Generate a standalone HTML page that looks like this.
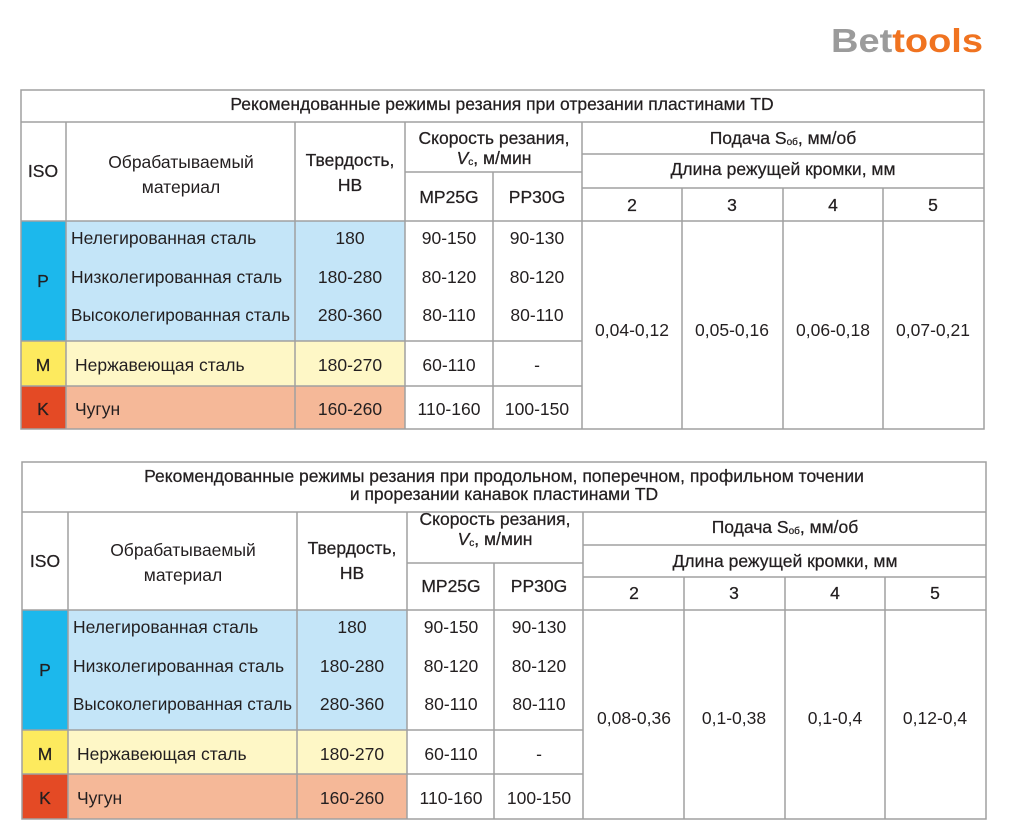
<!DOCTYPE html>
<html><head><meta charset="utf-8"><style>
body{margin:0;background:#fff}
svg{display:block}
text{font-family:"Liberation Sans",sans-serif;font-size:17.5px;fill:#231f20}
.h{font-weight:500;stroke:#231f20;stroke-width:0.25}
</style></head><body>
<svg width="1024" height="838" viewBox="0 0 1024 838">
<text x="831" y="52" textLength="152" lengthAdjust="spacingAndGlyphs" style="font-size:33px;font-weight:bold;fill:#9b9b9b">Bet<tspan style="fill:#f07320">tools</tspan></text>

<!-- TABLE 1 -->
<g>
<rect x="21" y="221" width="45" height="120" fill="#1cb8ec"/>
<rect x="66" y="221" width="339" height="120" fill="#c4e5f8"/>
<rect x="21" y="341" width="45" height="45" fill="#fdea5e"/>
<rect x="66" y="341" width="339" height="45" fill="#fef7c6"/>
<rect x="21" y="386" width="45" height="43" fill="#e44a25"/>
<rect x="66" y="386" width="339" height="43" fill="#f5b898"/>
<g stroke="#a0a0a0" stroke-width="1.5" fill="none">
<rect x="21" y="90" width="963" height="339"/>
<line x1="21" y1="122" x2="984" y2="122"/>
<line x1="21" y1="221" x2="984" y2="221"/>
<line x1="21" y1="341" x2="582" y2="341"/>
<line x1="21" y1="386" x2="582" y2="386"/>
<line x1="405" y1="172" x2="582" y2="172"/>
<line x1="582" y1="154" x2="984" y2="154"/>
<line x1="582" y1="188" x2="984" y2="188"/>
<line x1="66" y1="122" x2="66" y2="429"/>
<line x1="295" y1="122" x2="295" y2="429"/>
<line x1="405" y1="122" x2="405" y2="429"/>
<line x1="493" y1="172" x2="493" y2="429"/>
<line x1="582" y1="122" x2="582" y2="429"/>
<line x1="682" y1="188" x2="682" y2="429"/>
<line x1="783" y1="188" x2="783" y2="429"/>
<line x1="883" y1="188" x2="883" y2="429"/>
</g>
<g text-anchor="middle" dominant-baseline="central">
<text class="h" x="502" y="104">Рекомендованные режимы резания при отрезании пластинами TD</text>
<text class="h" x="43" y="171">ISO</text>
<text x="181" y="162">Обрабатываемый</text>
<text x="181" y="187">материал</text>
<text class="h" x="350" y="160">Твердость,</text>
<text class="h" x="350" y="185">HB</text>
<text class="h" x="494" y="138">Скорость резания,</text>
<text class="h" x="494" y="158"><tspan font-style="italic">V</tspan><tspan font-size="10" dy="4">c</tspan><tspan dy="-4">, м/мин</tspan></text>
<text class="h" x="449" y="197">MP25G</text>
<text class="h" x="537" y="197">PP30G</text>
<text class="h" x="783" y="138">Подача S<tspan font-size="10" dy="4">об</tspan><tspan dy="-4">, мм/об</tspan></text>
<text class="h" x="783" y="169">Длина режущей кромки, мм</text>
<text class="h" x="632" y="205">2</text><text class="h" x="732" y="205">3</text><text class="h" x="833" y="205">4</text><text class="h" x="933" y="205">5</text>
<text class="h" x="43" y="281">P</text><text class="h" x="43" y="365">M</text><text class="h" x="43" y="409">K</text>
<text x="350" y="238">180</text><text x="350" y="277">180-280</text><text x="350" y="315">280-360</text>
<text x="350" y="365">180-270</text><text x="350" y="409">160-260</text>
<text x="449" y="238">90-150</text><text x="449" y="277">80-120</text><text x="449" y="315">80-110</text>
<text x="449" y="365">60-110</text><text x="449" y="409">110-160</text>
<text x="537" y="238">90-130</text><text x="537" y="277">80-120</text><text x="537" y="315">80-110</text>
<text x="537" y="365">-</text><text x="537" y="409">100-150</text>
<text x="632" y="330">0,04-0,12</text><text x="732" y="330">0,05-0,16</text>
<text x="833" y="330">0,06-0,18</text><text x="933" y="330">0,07-0,21</text>
</g>
<g dominant-baseline="central">
<text x="71" y="238">Нелегированная сталь</text>
<text x="71" y="277">Низколегированная сталь</text>
<text x="71" y="315" textLength="219" lengthAdjust="spacingAndGlyphs">Высоколегированная сталь</text>
<text x="75" y="365">Нержавеющая сталь</text>
<text x="75" y="409">Чугун</text>
</g>
</g>

<!-- TABLE 2 -->
<g>
<rect x="22" y="610" width="46" height="120" fill="#1cb8ec"/>
<rect x="68" y="610" width="339" height="120" fill="#c4e5f8"/>
<rect x="22" y="730" width="46" height="44" fill="#fdea5e"/>
<rect x="68" y="730" width="339" height="44" fill="#fef7c6"/>
<rect x="22" y="774" width="46" height="45" fill="#e44a25"/>
<rect x="68" y="774" width="339" height="45" fill="#f5b898"/>
<g stroke="#a0a0a0" stroke-width="1.5" fill="none">
<rect x="22" y="462" width="964" height="357"/>
<line x1="22" y1="512" x2="986" y2="512"/>
<line x1="22" y1="610" x2="986" y2="610"/>
<line x1="22" y1="730" x2="583" y2="730"/>
<line x1="22" y1="774" x2="583" y2="774"/>
<line x1="407" y1="563" x2="583" y2="563"/>
<line x1="583" y1="545" x2="986" y2="545"/>
<line x1="583" y1="577" x2="986" y2="577"/>
<line x1="68" y1="512" x2="68" y2="819"/>
<line x1="297" y1="512" x2="297" y2="819"/>
<line x1="407" y1="512" x2="407" y2="819"/>
<line x1="494" y1="563" x2="494" y2="819"/>
<line x1="583" y1="512" x2="583" y2="819"/>
<line x1="684" y1="577" x2="684" y2="819"/>
<line x1="785" y1="577" x2="785" y2="819"/>
<line x1="885" y1="577" x2="885" y2="819"/>
</g>
<g text-anchor="middle" dominant-baseline="central">
<text class="h" x="504" y="476">Рекомендованные режимы резания при продольном, поперечном, профильном точении</text>
<text class="h" x="504" y="494">и прорезании  канавок пластинами TD</text>
<text class="h" x="45" y="561">ISO</text>
<text x="183" y="550">Обрабатываемый</text>
<text x="183" y="575">материал</text>
<text class="h" x="352" y="548">Твердость,</text>
<text class="h" x="352" y="573">HB</text>
<text class="h" x="495" y="519">Скорость резания,</text>
<text class="h" x="495" y="539"><tspan font-style="italic">V</tspan><tspan font-size="10" dy="4">c</tspan><tspan dy="-4">, м/мин</tspan></text>
<text class="h" x="451" y="586">MP25G</text>
<text class="h" x="539" y="586">PP30G</text>
<text class="h" x="785" y="527">Подача S<tspan font-size="10" dy="4">об</tspan><tspan dy="-4">, мм/об</tspan></text>
<text class="h" x="785" y="561">Длина режущей кромки, мм</text>
<text class="h" x="634" y="593">2</text><text class="h" x="734" y="593">3</text><text class="h" x="835" y="593">4</text><text class="h" x="935" y="593">5</text>
<text class="h" x="45" y="670">P</text><text class="h" x="45" y="754">M</text><text class="h" x="45" y="798">K</text>
<text x="352" y="627">180</text><text x="352" y="666">180-280</text><text x="352" y="704">280-360</text>
<text x="352" y="754">180-270</text><text x="352" y="798">160-260</text>
<text x="451" y="627">90-150</text><text x="451" y="666">80-120</text><text x="451" y="704">80-110</text>
<text x="451" y="754">60-110</text><text x="451" y="798">110-160</text>
<text x="539" y="627">90-130</text><text x="539" y="666">80-120</text><text x="539" y="704">80-110</text>
<text x="539" y="754">-</text><text x="539" y="798">100-150</text>
<text x="634" y="718">0,08-0,36</text><text x="734" y="718">0,1-0,38</text>
<text x="835" y="718">0,1-0,4</text><text x="935" y="718">0,12-0,4</text>
</g>
<g dominant-baseline="central">
<text x="73" y="627">Нелегированная сталь</text>
<text x="73" y="666">Низколегированная сталь</text>
<text x="73" y="704" textLength="219" lengthAdjust="spacingAndGlyphs">Высоколегированная сталь</text>
<text x="77" y="754">Нержавеющая сталь</text>
<text x="77" y="798">Чугун</text>
</g>
</g>
</svg>
</body></html>
